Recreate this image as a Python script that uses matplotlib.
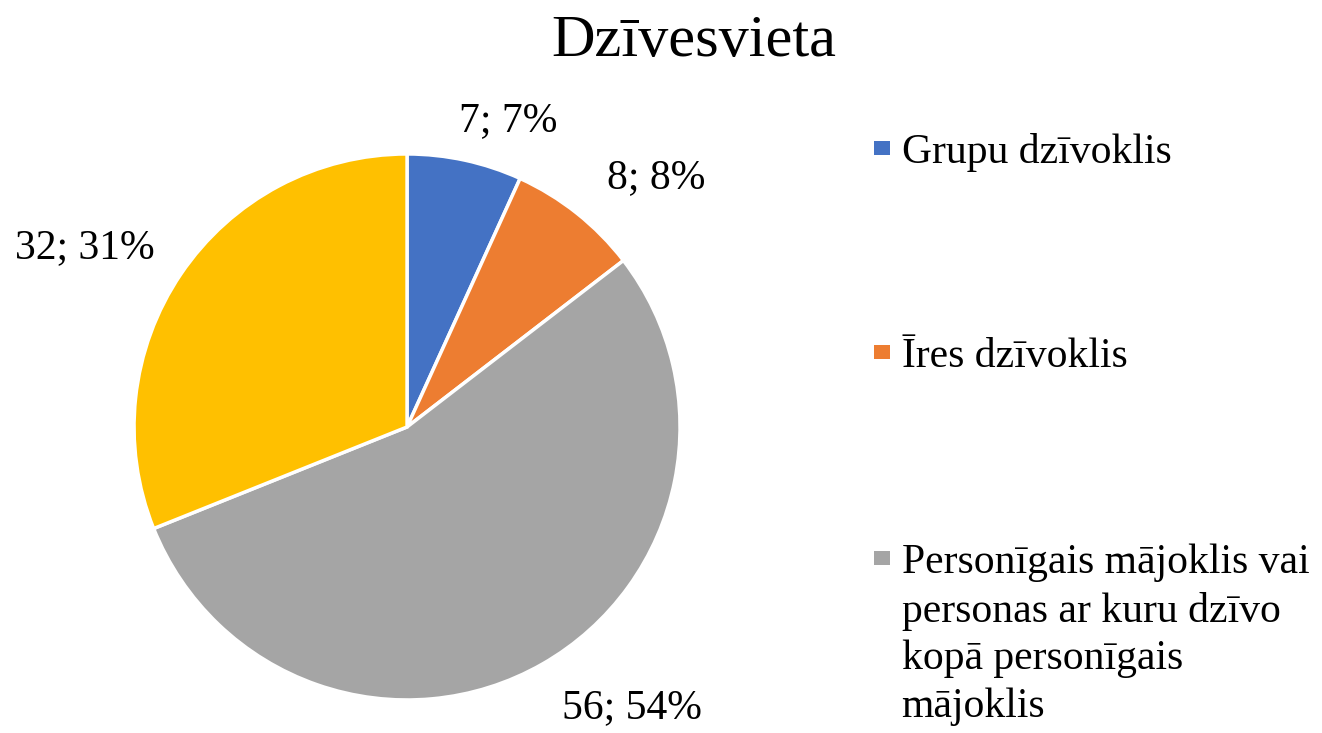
import numpy as np
import matplotlib
matplotlib.use("Agg")
import matplotlib.pyplot as plt
from matplotlib.patches import Rectangle

plt.rcParams['font.family'] = ['Liberation Serif', 'DejaVu Serif']

# data
categories = ["Grupu dzīvoklis", "Īres dzīvoklis",
              "Personīgais mājoklis vai\npersonas ar kuru dzīvo\nkopā personīgais\nmājoklis",
              "Cits"]
counts = [7, 8, 56, 32]
colors = ["#4472C4", "#ED7D31", "#A5A5A5", "#FFC000"]

# label placement (radius, angle nudge in degrees) per slice
label_pos = [(1.18, -6), (1.29, -6.5), (1.32, 9), (1.35, 5)]

fig = plt.figure(figsize=(13.22, 7.33), dpi=100)
ax = fig.add_axes([0.1014, 0.045, 0.413, 0.745])

wedges, _ = ax.pie(counts, colors=colors, startangle=90, counterclock=False,
                   radius=1.0, wedgeprops=dict(edgecolor="white", linewidth=2.5))
ax.set_xlim(-1, 1)
ax.set_ylim(-1, 1)
ax.set_aspect('equal')
ax.axis('off')

total = sum(counts)
for w, n, (r, nudge) in zip(wedges, counts, label_pos):
    mid = np.deg2rad((w.theta1 + w.theta2) / 2 + nudge)
    pct = round(100 * n / total)
    ax.text(r * np.cos(mid), r * np.sin(mid), f"{n}; {pct}%",
            ha='center', va='center', fontsize=30, clip_on=False)

fig.text(0.525, 0.943, "Dzīvesvieta", ha='center', va='center', fontsize=43.5)

# legend drawn by hand; only the first three entries fit, as in the original
leg_base = [0.7776, 0.4993, 0.2183]   # baseline of first line (figure fraction)
line_step = 48 / 733
for lab, col, yb in zip(categories[:3], colors[:3], leg_base):
    fig.patches.append(Rectangle((0.6611, yb + 0.0109), 0.0121, 0.0191,
                                 transform=fig.transFigure, facecolor=col,
                                 edgecolor='none'))
    nlines = lab.count("\n") + 1
    # multi-line text with va='baseline' sits on its last line
    fig.text(0.682, yb - (nlines - 1) * line_step, lab, ha='left',
             va='baseline', fontsize=30, linespacing=1.31)

fig.savefig("out.png", dpi=100)
